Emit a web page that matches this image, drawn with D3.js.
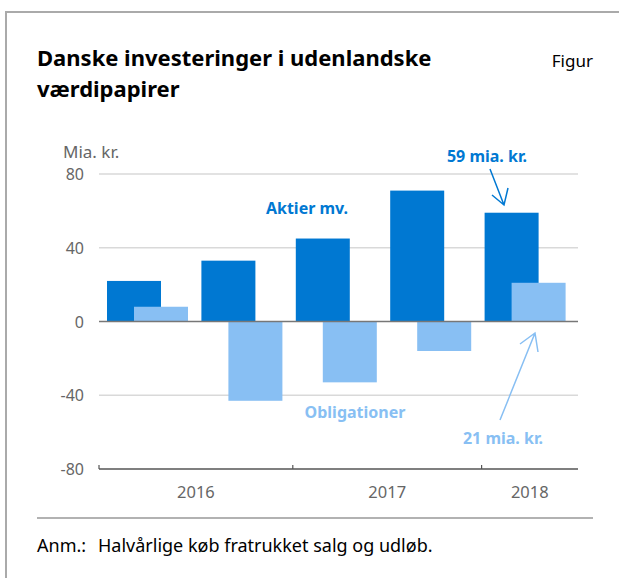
<!DOCTYPE html>
<html>
<head>
<meta charset="utf-8">
<script src="https://cdn.jsdelivr.net/npm/d3@7"></script>
<style>
  body { margin: 0; background: #fff; }
  text { font-family: "Noto Sans", "Open Sans", sans-serif; }
</style>
</head>
<body>
<div id="chart-area"></div>
<script>
// halvårlige perioder, 2016 H1 - 2018 H1
var periods = ["2016H1", "2016H2", "2017H1", "2017H2", "2018H1"];
var aktier = [22, 33, 45, 71, 59];
var obligationer = [8, -43, -33, -16, 21];
var yTicks = [80, 40, 0, -40, -80];
var years = ["2016", "2017", "2018"];

var width = 619, height = 578;
var darkBlue = "#0078d2", lightBlue = "#88bff3";

var svg = d3.select("#chart-area").append("svg")
    .attr("width", width)
    .attr("height", height);

// ramme
svg.append("path")
    .attr("d", "M6,578 V12 H619")
    .attr("fill", "none")
    .attr("stroke", "#aaaaaa")
    .attr("stroke-width", 2);

svg.append("text")
    .attr("x", 37).attr("y", 66)
    .attr("font-size", "22px").attr("font-weight", "bold")
    .attr("fill", "#000")
    .text("Danske investeringer i udenlandske");
svg.append("text")
    .attr("x", 37).attr("y", 97)
    .attr("font-size", "22px").attr("font-weight", "bold")
    .attr("fill", "#000")
    .text("værdipapirer");
svg.append("text")
    .attr("x", 593).attr("y", 67)
    .attr("text-anchor", "end")
    .attr("font-size", "17px")
    .attr("fill", "#000")
    .text("Figur");

var x = d3.scaleBand()
    .domain(periods)
    .range([104, 576]);

var y = d3.scaleLinear()
    .domain([-80, 80])
    .range([469, 174]);

var axisLeft = 99, axisRight = 578;

// gitterlinjer
svg.append("g")
    .selectAll("line")
    .data(yTicks.filter(d => d !== -80 && d !== 0))
    .enter().append("line")
    .attr("x1", axisLeft).attr("x2", axisRight)
    .attr("y1", d => y(d)).attr("y2", d => y(d))
    .attr("stroke", "#d9d9d9")
    .attr("stroke-width", 1.5);

svg.append("g")
    .selectAll("text")
    .data(yTicks)
    .enter().append("text")
    .attr("x", 84)
    .attr("y", d => y(d) + 6)
    .attr("text-anchor", "end")
    .attr("font-size", "16px")
    .attr("fill", "#666")
    .text(d => d);

svg.append("text")
    .attr("x", 63).attr("y", 158)
    .attr("font-size", "17px")
    .attr("fill", "#666")
    .text("Mia. kr.");

var barW = 54;

svg.append("g")
    .selectAll("rect")
    .data(aktier)
    .enter().append("rect")
    .attr("x", (d, i) => x(periods[i]) + 3)
    .attr("y", d => y(Math.max(0, d)))
    .attr("width", barW)
    .attr("height", d => Math.abs(y(d) - y(0)))
    .attr("fill", darkBlue);

svg.append("g")
    .selectAll("rect")
    .data(obligationer)
    .enter().append("rect")
    .attr("x", (d, i) => x(periods[i]) + 30)
    .attr("y", d => y(Math.max(0, d)))
    .attr("width", barW)
    .attr("height", d => Math.abs(y(d) - y(0)))
    .attr("fill", lightBlue);

// nul-linje
svg.append("line")
    .attr("x1", axisLeft).attr("x2", axisRight)
    .attr("y1", y(0)).attr("y2", y(0))
    .attr("stroke", "#777")
    .attr("stroke-width", 1.5);

// x-akse
var xAxis = svg.append("g");
xAxis.append("line")
    .attr("x1", axisLeft).attr("x2", axisRight)
    .attr("y1", y(-80)).attr("y2", y(-80))
    .attr("stroke", "#555")
    .attr("stroke-width", 1.5);
var tickX = [axisLeft, x("2017H1"), x("2018H1")];
xAxis.selectAll(".tick")
    .data(tickX)
    .enter().append("line")
    .attr("x1", d => d).attr("x2", d => d)
    .attr("y1", y(-80) - 4).attr("y2", y(-80))
    .attr("stroke", "#555")
    .attr("stroke-width", 1.2);
var yearStart = [axisLeft, x("2017H1"), x("2018H1")];
var yearEnd = [x("2017H1"), x("2018H1"), axisRight];
xAxis.selectAll("text")
    .data(years)
    .enter().append("text")
    .attr("x", (d, i) => (yearStart[i] + yearEnd[i]) / 2)
    .attr("y", 498)
    .attr("text-anchor", "middle")
    .attr("font-size", "16.5px")
    .attr("fill", "#666")
    .text(d => d);

// annoteringer
svg.append("text")
    .attr("x", 307).attr("y", 214)
    .attr("text-anchor", "middle")
    .attr("font-size", "16px").attr("font-weight", "bold")
    .attr("fill", darkBlue)
    .text("Aktier mv.");
svg.append("text")
    .attr("x", 355).attr("y", 418)
    .attr("text-anchor", "middle")
    .attr("font-size", "16px").attr("font-weight", "bold")
    .attr("fill", lightBlue)
    .text("Obligationer");
svg.append("text")
    .attr("x", 487).attr("y", 162)
    .attr("text-anchor", "middle")
    .attr("font-size", "16px").attr("font-weight", "bold")
    .attr("fill", darkBlue)
    .text(aktier[4] + " mia. kr.");
svg.append("text")
    .attr("x", 503).attr("y", 444)
    .attr("text-anchor", "middle")
    .attr("font-size", "16px").attr("font-weight", "bold")
    .attr("fill", lightBlue)
    .text(obligationer[4] + " mia. kr.");

// pile
svg.append("path")
    .attr("d", "M490,169 L504,205 M492,195 L504,205 L508,188")
    .attr("fill", "none")
    .attr("stroke", darkBlue)
    .attr("stroke-width", 1.5);
svg.append("path")
    .attr("d", "M500,420 L535,333 M520,344 L535,333 L538,352")
    .attr("fill", "none")
    .attr("stroke", lightBlue)
    .attr("stroke-width", 1.5);

// note
svg.append("line")
    .attr("x1", 37).attr("x2", 593)
    .attr("y1", 518).attr("y2", 518)
    .attr("stroke", "#999")
    .attr("stroke-width", 1.5);
svg.append("text")
    .attr("x", 37).attr("y", 552)
    .attr("font-size", "18px")
    .attr("fill", "#000")
    .text("Anm.:");
svg.append("text")
    .attr("x", 98).attr("y", 552)
    .attr("font-size", "18px")
    .attr("fill", "#000")
    .text("Halvårlige køb fratrukket salg og udløb.");
</script>
</body>
</html>
